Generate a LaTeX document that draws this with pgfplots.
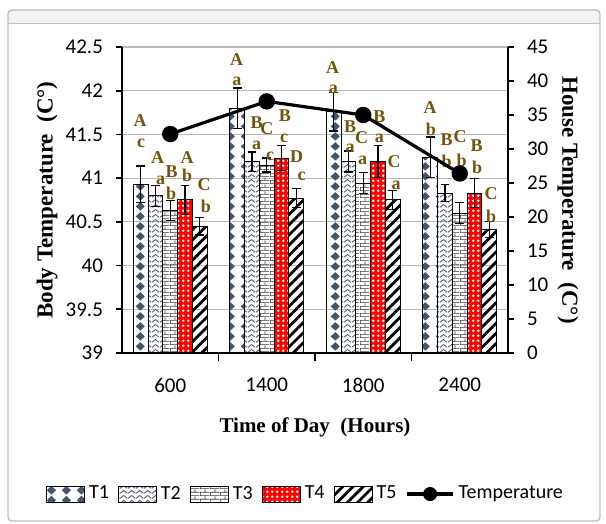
\documentclass[border=0pt]{standalone}
\usepackage{fontspec}
\setmainfont{Carlito}
\newfontfamily\tnr{Liberation Serif}
\usepackage{pgfplots}
\pgfplotsset{compat=1.18}
\usetikzlibrary{patterns,patterns.meta}

\definecolor{slate}{HTML}{44546A}
\definecolor{tred}{HTML}{FF0000}
\definecolor{lettercol}{RGB}{115,85,10}

% bar fills
\tikzdeclarepattern{name=diamonds, type=uncolored,
  bounding box={(0pt,0pt) and (7.4pt,4.8pt)}, tile size={(7.4pt,4.8pt)},
  code={\fill (3.7pt,0.2pt) -- (6pt,2.4pt) -- (3.7pt,4.6pt) -- (1.4pt,2.4pt) -- cycle;}}
\tikzdeclarepattern{name=zigzag, type=uncolored,
  bounding box={(0pt,0pt) and (4pt,2.6pt)}, tile size={(4pt,2.6pt)},
  code={\draw[line width=0.45pt] (0pt,0.4pt) -- (2pt,2pt) -- (4pt,0.4pt);}}
\tikzdeclarepattern{name=bricks, type=uncolored,
  bounding box={(0pt,0pt) and (5pt,3.6pt)}, tile size={(5pt,3.6pt)},
  code={\draw[line width=0.4pt] (0pt,0.2pt) -- (5pt,0.2pt) (0pt,2pt) -- (5pt,2pt)
        (0.2pt,0.2pt) -- (0.2pt,2pt) (2.7pt,2pt) -- (2.7pt,3.6pt);}}
\tikzdeclarepattern{name=whitedots, type=uncolored,
  bounding box={(0pt,0pt) and (2.6pt,2.6pt)}, tile size={(2.6pt,2.6pt)},
  code={\fill (1.3pt,1.3pt) circle (0.75pt);}}

\tikzset{lbl/.style={font=\tnr\bfseries\fontsize{9}{10}\selectfont, text=lettercol, inner sep=0pt}}
\pgfplotsset{
  ebars/.style={error bars/.cd, y dir=both, y explicit,
    error bar style={black, line width=0.6pt},
    error mark options={rotate=90, black, mark size=2.2pt, line width=0.6pt}},
}

\pgfplotstableread{
x  y     e
0  40.93 0.21
1  41.80 0.23
2  41.76 0.22
3  41.24 0.23
}\tone
\pgfplotstableread{
x  y     e
0  40.80 0.12
1  41.19 0.11
2  41.19 0.12
3  40.83 0.10
}\ttwo
\pgfplotstableread{
x  y     e
0  40.63 0.11
1  41.15 0.08
2  40.94 0.12
3  40.60 0.12
}\tthree
\pgfplotstableread{
x  y     e
0  40.75 0.17
1  41.23 0.14
2  41.19 0.18
3  40.83 0.17
}\tfour
\pgfplotstableread{
x  y     e
0  40.45 0.10
1  40.77 0.11
2  40.75 0.11
3  40.41 0.09
}\tfive

\begin{document}
\begin{tikzpicture}
\fill[white] (0pt,0pt) rectangle (303pt,262pt);
\fill[gray!10] (4pt,250pt) rectangle (300pt,257pt);
\draw[gray!50, line width=0.7pt, rounded corners=2pt] (4pt,1.5pt) rectangle (300pt,257pt);
\draw[gray!50, line width=0.5pt] (4pt,250pt) -- (300pt,250pt);

\begin{axis}[
  at={(61pt,85.5pt)}, anchor=south west, scale only axis,
  width=193pt, height=153pt,
  xmin=-0.5, xmax=3.5, ymin=39, ymax=42.5,
  ybar=0pt, bar width=0.153,
  axis x line*=bottom, axis y line*=left,
  axis line style={-, black, line width=1pt},
  ytick={39,39.5,...,42.5},
  ymajorgrids, grid style={gray!55, line width=0.6pt},
  xtick={0,1,2,3}, xticklabels={600,1400,1800,2400},
  major x tick style={draw=none},
  minor xtick={0.5,1.5,2.5}, minor tick length=4pt,
  minor x tick style={black, line width=0.8pt},
  tick align=outside, major tick length=3pt,
  tick style={black, line width=0.8pt},
  tick label style={font=\fontsize{10.5}{12}\selectfont},
  /pgf/number format/assume math mode=true,
  yticklabel style={xshift=-3pt},
  xticklabel style={yshift=-6pt},
  xlabel={\tnr\bfseries\fontsize{10.5}{12}\selectfont Time of Day~~(Hours)},
  every axis x label/.style={at={(axis description cs:0.5,-0.242)}, anchor=center},
  ylabel={\tnr\bfseries\fontsize{11.5}{12}\selectfont Body Temperature~~(C°)},
  every axis y label/.style={at={(axis description cs:-0.194,0.5)}, rotate=90, anchor=center},
  legend style={at={(0.478,-0.461)}, anchor=center, draw=none, fill=none,
    legend columns=-1, font=\fontsize{10}{12}\selectfont,
    /tikz/every even column/.append style={column sep=2.5pt},
    /tikz/every odd column/.append style={column sep=0pt}},
  legend image code/.code={\draw[#1] (0pt,-4pt) rectangle (19pt,4pt);},
]
\addplot[draw=black, line width=0.5pt, pattern=diamonds, pattern color=slate, ebars]
  table[x=x, y=y, y error=e] {\tone};
\addplot[draw=black, line width=0.5pt, pattern=zigzag, pattern color=slate, ebars]
  table[x=x, y=y, y error=e] {\ttwo};
\addplot[draw=black, line width=0.5pt, pattern=bricks, pattern color=black!80, ebars]
  table[x=x, y=y, y error=e] {\tthree};
\addplot[draw=black, line width=0.5pt, fill=tred,
  postaction={pattern=whitedots, pattern color=white}, ebars]
  table[x=x, y=y, y error=e] {\tfour};
\addplot[draw=black, line width=0.5pt,
  pattern={Lines[angle=45, distance=3.6pt, line width=1.4pt]}, pattern color=black, ebars]
  table[x=x, y=y, y error=e] {\tfive};
\addlegendentry{T1}
\addlegendentry{T2}
\addlegendentry{T3}
\addlegendentry{T4}
\addlegendentry{T5}
\addlegendimage{legend image code/.code={
  \draw[black, line width=1.6pt] (0pt,0pt) -- (23pt,0pt);
  \fill[black] (11.5pt,0pt) circle (3.3pt);}}
\addlegendentry{Temperature}

% significance letters
\node[lbl] at (axis cs:-0.313,41.66) {A};
\node[lbl] at (axis cs:-0.303,41.40) {c};
\node[lbl] at (axis cs:-0.13,41.23) {A};
\node[lbl] at (axis cs:-0.10,40.98) {a};
\node[lbl] at (axis cs:0.015,41.08) {B};
\node[lbl] at (axis cs:0.008,40.83) {b};
\node[lbl] at (axis cs:0.174,41.23) {A};
\node[lbl] at (axis cs:0.174,41.03) {b};
\node[lbl] at (axis cs:0.35,40.93) {C};
\node[lbl] at (axis cs:0.37,40.68) {b};

\node[lbl] at (axis cs:0.689,42.36) {A};
\node[lbl] at (axis cs:0.69,42.11) {a};
\node[lbl] at (axis cs:0.896,41.63) {B};
\node[lbl] at (axis cs:1.0,41.57) {C};
\node[lbl] at (axis cs:0.896,41.38) {a};
\node[lbl] at (axis cs:1.034,41.25) {c};
\node[lbl] at (axis cs:1.189,41.71) {B};
\node[lbl] at (axis cs:1.179,41.46) {c};
\node[lbl] at (axis cs:1.31,41.25) {D};
\node[lbl] at (axis cs:1.362,41.02) {c};

\node[lbl] at (axis cs:1.683,42.27) {A};
\node[lbl] at (axis cs:1.69,42.02) {a};
\node[lbl] at (axis cs:1.863,41.59) {B};
\node[lbl] at (axis cs:1.863,41.34) {a};
\node[lbl] at (axis cs:1.984,41.46) {C};
\node[lbl] at (axis cs:1.994,41.20) {a};
\node[lbl] at (axis cs:2.166,41.70) {B};
\node[lbl] at (axis cs:2.166,41.46) {a};
\node[lbl] at (axis cs:2.32,41.19) {C};
\node[lbl] at (axis cs:2.34,40.92) {a};

\node[lbl] at (axis cs:2.692,41.81) {A};
\node[lbl] at (axis cs:2.70,41.56) {b};
\node[lbl] at (axis cs:2.865,41.44) {B};
\node[lbl] at (axis cs:2.865,41.19) {b};
\node[lbl] at (axis cs:3.003,41.47) {C};
\node[lbl] at (axis cs:3.02,41.20) {b};
\node[lbl] at (axis cs:3.176,41.37) {B};
\node[lbl] at (axis cs:3.18,41.12) {b};
\node[lbl] at (axis cs:3.324,40.82) {C};
\node[lbl] at (axis cs:3.324,40.56) {b};
\end{axis}

\begin{axis}[
  at={(61pt,85.5pt)}, anchor=south west, scale only axis,
  width=193pt, height=153pt,
  xmin=-0.5, xmax=3.5, ymin=0, ymax=45,
  ytick={0,5,...,45},
  axis y line*=right, axis x line=none,
  axis line style={-, black, line width=1pt},
  tick align=outside, major tick length=3pt,
  tick style={black, line width=0.8pt},
  tick label style={font=\fontsize{10.5}{12}\selectfont},
  /pgf/number format/assume math mode=true,
  yticklabel style={xshift=3pt},
  ylabel={\tnr\bfseries\fontsize{11.5}{12}\selectfont House Temperature~~(C°)},
  every axis y label/.style={at={(axis description cs:1.155,0.5)}, rotate=-90, anchor=center},
]
\addplot[black, line width=1.6pt, mark=*, mark size=3.3pt] coordinates {
  (0,32.2) (1,37.0) (2,35.0) (3,26.4)};
\end{axis}
\end{tikzpicture}
\end{document}
